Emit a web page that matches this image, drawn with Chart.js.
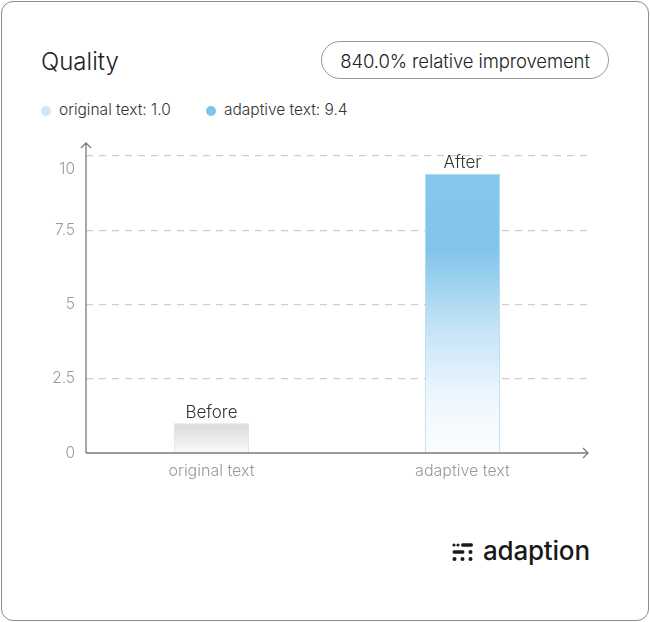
<!DOCTYPE html>
<html>
<head>
<meta charset="utf-8">
<script src="https://cdn.jsdelivr.net/npm/chart.js@4"></script>
<style>
  body { margin: 0; background: #fff; font-family: Inter, 'Noto Sans', sans-serif; }
  .card { position: absolute; left: 1px; top: 1px; width: 646px; height: 618px; border: 1px solid #8c8c8c; border-radius: 12px; }
  .title { position: absolute; left: 41px; top: 47px; font-size: 24px; color: #222; font-weight: 300; }
  .pill { position: absolute; left: 321px; top: 41px; width: 286px; height: 36px; border: 1px solid #9a9a9a; border-radius: 19px;
          font-size: 18.5px; color: #222; line-height: 38px; text-align: center; font-weight: 300; letter-spacing: -0.1px; }
  .legend { position: absolute; top: 100px; font-size: 15.5px; color: #333; white-space: nowrap; font-weight: 300; }
  .legend span.dot { display: inline-block; width: 10px; height: 10px; border-radius: 50%; margin-right: 8px; vertical-align: -1px; }
  .logo { position: absolute; left: 452px; top: 541px; }
  .logo .word { position: absolute; left: 31px; top: -6px; font-size: 26px; font-weight: 500; color: #1a1a1a; letter-spacing: -0.2px; }
  .wrap { position: absolute; left: 0; top: 0; width: 650px; height: 622px; }
</style>
</head>
<body>
<div class="card"></div>
<div class="title">Quality</div>
<div class="pill">840.0% relative improvement</div>
<div class="legend" id="legend"></div>
<div class="logo">
  <svg width="22" height="22" viewBox="0 0 22 22">
    <circle cx="2" cy="4" r="1.6" fill="#1a1a1a"/>
    <circle cx="6" cy="4" r="1.6" fill="#1a1a1a"/>
    <rect x="9" y="2.3" width="12" height="3.4" rx="1.7" fill="#1a1a1a"/>
    <rect x="0.5" y="9.3" width="12" height="3.4" rx="1.7" fill="#1a1a1a"/>
    <circle cx="18.5" cy="11" r="2" fill="#1a1a1a"/>
    <circle cx="2.5" cy="18" r="2" fill="#1a1a1a"/>
    <circle cx="10.5" cy="18" r="2" fill="#1a1a1a"/>
    <circle cx="18.5" cy="18" r="2" fill="#1a1a1a"/>
  </svg>
  <div class="word">adaption</div>
</div>
<div class="wrap"><canvas id="chart"></canvas></div>
<script>
const categories = ['original text', 'adaptive text'];
const values = [1.0, 9.4];
const barTags = ['Before', 'After'];
const yTicks = [0, 2.5, 5, 7.5, 10];
const legendColors = ['#cde7f8', '#7fc4ec'];

// legend in html
const legend = document.getElementById('legend');
const legendX = [41, 206];
categories.forEach((c, i) => {
    const d = document.createElement('div');
    d.className = 'legend';
    d.style.left = legendX[i] + 'px';
    d.style.top = '0px';
    d.style.position = 'absolute';
    d.innerHTML = '<span class="dot" style="background:' + legendColors[i] + '"></span>' + c + ': ' + values[i].toFixed(1);
    legend.appendChild(d);
});

function barFill(ctx) {
    const chart = ctx.chart;
    const area = chart.chartArea;
    if (!area) return '#ddd';
    const y = chart.scales.y;
    const top = y.getPixelForValue(values[ctx.dataIndex]);
    const g = chart.ctx.createLinearGradient(0, top, 0, area.bottom);
    if (ctx.dataIndex === 0) {
        g.addColorStop(0, '#d9d9d9');
        g.addColorStop(1, '#fbfbfb');
    } else {
        g.addColorStop(0, '#85c8ed');
        g.addColorStop(0.27, '#82c5ea');
        g.addColorStop(0.55, '#c4e3f6');
        g.addColorStop(0.8, '#eef7fd');
        g.addColorStop(1, '#fcfeff');
    }
    return g;
}

const overlay = {
    id: 'overlay',
    afterDraw(chart) {
        const c = chart.ctx;
        const a = chart.chartArea;
        const ys = chart.scales.y;
        c.save();
        // axes
        c.strokeStyle = '#7a7a7a';
        c.lineWidth = 1.3;
        c.beginPath();
        c.moveTo(a.left, a.bottom);
        c.lineTo(a.left, a.top - 13);
        c.moveTo(a.left, a.bottom);
        c.lineTo(a.right, a.bottom);
        // arrow heads
        c.moveTo(a.left - 5, a.top - 8);
        c.lineTo(a.left, a.top - 13);
        c.lineTo(a.left + 5, a.top - 8);
        c.moveTo(a.right - 5, a.bottom - 5);
        c.lineTo(a.right, a.bottom);
        c.lineTo(a.right - 5, a.bottom + 5);
        c.stroke();

        // y labels
        c.fillStyle = '#9a9a9a';
        c.font = '300 15.5px Inter, sans-serif';
        c.textAlign = 'right';
        c.textBaseline = 'middle';
        yTicks.forEach(v => {
            let py = ys.getPixelForValue(v);
            if (v === 10) py += 13;
            c.fillText(String(v), a.left - 11, py);
        });

        // labels over bars
        const meta = chart.getDatasetMeta(0);
        c.fillStyle = '#333';
        c.font = '300 17px Inter, sans-serif';
        c.textAlign = 'center';
        c.textBaseline = 'bottom';
        meta.data.forEach((bar, i) => {
            c.fillText(barTags[i], bar.x, bar.y - 2);
        });
        c.restore();
    }
};

const ctx = document.getElementById('chart').getContext('2d');
new Chart(ctx, {
    type: 'bar',
    data: {
        labels: categories,
        datasets: [{
            data: values,
            backgroundColor: barFill,
            borderColor: ['#e0e0e0', '#b3daf1'],
            borderWidth: 1,
            borderSkipped: 'bottom',
            barPercentage: 0.3,
            categoryPercentage: 1
        }]
    },
    options: {
        responsive: true,
        maintainAspectRatio: false,
        animation: false,
        layout: { padding: { top: 156, right: 62, left: 0, bottom: 0 } },
        plugins: { legend: { display: false }, tooltip: { enabled: false } },
        scales: {
            x: {
                grid: { display: false },
                border: { display: false },
                ticks: { color: '#9a9a9a', font: { family: 'Inter', size: 16, weight: 300 }, padding: 1 },
                afterFit: s => { s.height = 622 - 453; }
            },
            y: {
                min: 0,
                max: 10,
                afterBuildTicks: s => { s.ticks = yTicks.map(v => ({ value: v })); },
                ticks: { display: false },
                border: { display: false, dash: [7, 6] },
                grid: {
                    drawTicks: false,
                    color: c => c.tick && c.tick.value === 0 ? 'rgba(0,0,0,0)' : '#cdcdcd',
                    lineWidth: 1.3
                },
                afterFit: s => { s.width = 86; }
            }
        }
    },
    plugins: [overlay]
});
</script>
</body>
</html>
